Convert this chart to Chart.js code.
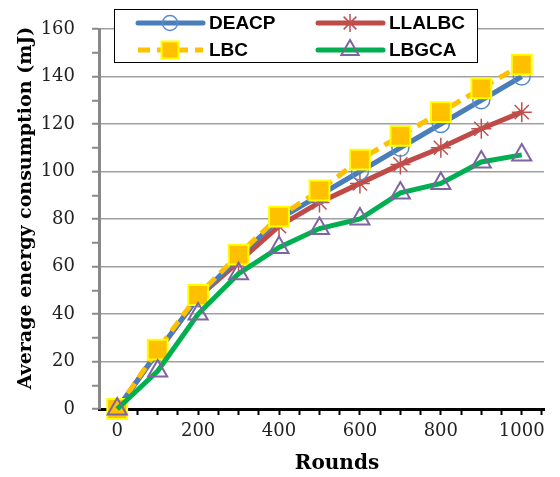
<!DOCTYPE html>
<html>
<head>
<meta charset="utf-8">
<script src="https://cdn.jsdelivr.net/npm/chart.js@4.4.1/dist/chart.umd.min.js"></script>
<style>
  html, body { margin: 0; padding: 0; background: #fff; }
  #wrap { position: relative; width: 560px; height: 477px; }
</style>
</head>
<body>
<div id="wrap"><canvas id="energyChart"></canvas></div>
<script>
// Rounds on the x axis
const rounds = [0, 100, 200, 300, 400, 500, 600, 700, 800, 900, 1000];

// Average energy consumption (mJ) per protocol
const deacp  = [0, 24, 47, 64, 80, 90, 100, 110, 120, 130, 140];
const llalbc = [0, 24, 47, 62, 77, 87, 95, 103, 110, 118, 125];
const lbc    = [0, 25, 48, 65, 81, 92, 105, 115, 125, 135, 145];
const lbgca  = [0, 16, 40, 57, 68, 76, 80, 91, 95, 104, 107];

// Labelled ticks
const xLabels = [0, 200, 400, 600, 800, 1000];
const yLabels = [0, 20, 40, 60, 80, 100, 120, 140, 160];

const xTitle = 'Rounds';
const yTitle = 'Average energy consumption (mJ)';

const toPoints = arr => arr.map((v, i) => ({ x: rounds[i], y: v }));

const tickFont = { family: 'DejaVu Serif', size: 18 };

// Axis titles, placed a little off the scale centres
const axisTitles = {
    id: 'axisTitles',
    afterDraw(chart) {
        const ctx = chart.ctx;
        ctx.save();
        ctx.fillStyle = '#000';
        ctx.font = 'bold 20px "DejaVu Serif"';
        ctx.textAlign = 'center';
        ctx.textBaseline = 'middle';
        ctx.fillText(xTitle, 337, 464);
        ctx.translate(26, 208);
        ctx.rotate(-Math.PI / 2);
        ctx.font = 'bold 19px "DejaVu Serif"';
        ctx.fillText(yTitle, 0, 0);
        ctx.restore();
    }
};

// Boxed legend in two columns, each entry shows line + marker
const legendBox = {
    id: 'legendBox',
    afterDraw(chart) {
        const ctx = chart.ctx;
        const ds = chart.data.datasets;
        ctx.save();
        ctx.fillStyle = '#fff';
        ctx.fillRect(114.5, 9.5, 363, 53);
        ctx.strokeStyle = '#000';
        ctx.lineWidth = 1;
        ctx.strokeRect(114.5, 9.5, 363, 53);

        const slots = [[138, 23], [318, 23], [138, 50], [318, 50]];
        ds.forEach((d, i) => {
            const [x, y] = slots[i];
            ctx.save();
            ctx.strokeStyle = d.borderColor;
            ctx.lineWidth = d.borderWidth;
            ctx.lineCap = d.borderDash ? 'butt' : 'round';
            ctx.setLineDash(d.borderDash || []);
            ctx.beginPath();
            ctx.moveTo(x, y);
            ctx.lineTo(x + 65, y);
            ctx.stroke();
            ctx.restore();

            ctx.save();
            ctx.strokeStyle = d.pointBorderColor;
            ctx.fillStyle = d.pointBackgroundColor;
            ctx.lineWidth = d.pointBorderWidth;
            Chart.helpers.drawPoint(ctx, {
                pointStyle: d.pointStyle,
                radius: d.legendRadius,
                rotation: 0,
                borderWidth: d.pointBorderWidth
            }, x + 32, y);
            ctx.restore();

            ctx.fillStyle = '#000';
            ctx.font = 'bold 19px "Liberation Sans"';
            ctx.textBaseline = 'middle';
            ctx.fillText(d.label, x + 71, y + 1);
        });
        ctx.restore();
    }
};

new Chart(document.getElementById('energyChart'), {
    type: 'line',
    data: {
        datasets: [
            {
                label: 'DEACP',
                data: toPoints(deacp),
                borderColor: '#4A7EBB',
                borderWidth: 5,
                pointStyle: 'circle',
                pointRadius: 8.5,
                legendRadius: 7.5,
                pointBorderColor: '#5B8BC9',
                pointBackgroundColor: 'rgba(0,0,0,0)',
                pointBorderWidth: 1.5,
                order: 2
            },
            {
                label: 'LLALBC',
                data: toPoints(llalbc),
                borderColor: '#BE4B48',
                borderWidth: 5,
                pointStyle: 'star',
                pointRadius: 10,
                legendRadius: 9,
                pointBorderColor: '#C0504D',
                pointBackgroundColor: '#C0504D',
                pointBorderWidth: 1.5,
                order: 3
            },
            {
                label: 'LBC',
                data: toPoints(lbc),
                borderColor: '#FFC000',
                borderWidth: 5,
                borderDash: [12, 7],
                pointStyle: 'rect',
                pointRadius: 14,
                legendRadius: 12,
                pointBorderColor: '#FFFF00',
                pointBackgroundColor: '#FFC000',
                pointBorderWidth: 2,
                order: 1
            },
            {
                label: 'LBGCA',
                data: toPoints(lbgca),
                borderColor: '#00B050',
                borderWidth: 5,
                pointStyle: 'triangle',
                pointRadius: 11,
                legendRadius: 10,
                pointBorderColor: '#8064A2',
                pointBackgroundColor: 'rgba(0,0,0,0)',
                pointBorderWidth: 2,
                order: 0
            }
        ]
    },
    options: {
        responsive: true,
        maintainAspectRatio: false,
        animation: false,
        clip: false,
        layout: { padding: { left: 0, top: 29, right: 2, bottom: 0 } },
        plugins: {
            legend: { display: false },
            tooltip: { enabled: false }
        },
        elements: { line: { tension: 0 } },
        scales: {
            x: {
                type: 'linear',
                min: -45,
                max: 1055,
                afterBuildTicks(scale) {
                    const t = [];
                    for (let v = 0; v <= 1050; v += 50) t.push({ value: v });
                    scale.ticks = t;
                },
                afterFit(scale) { scale.height = 68; },
                ticks: {
                    autoSkip: false,
                    maxRotation: 0,
                    padding: 6,
                    color: '#222',
                    font: tickFont,
                    callback: v => xLabels.includes(v) ? String(v) : ''
                },
                grid: {
                    drawOnChartArea: false,
                    tickLength: 6,
                    tickColor: '#000',
                    tickWidth: 2
                },
                border: { color: '#000', width: 3 }
            },
            y: {
                min: 0,
                max: 160,
                afterBuildTicks(scale) {
                    const t = [];
                    for (let v = 0; v <= 160; v += 10) t.push({ value: v });
                    scale.ticks = t;
                },
                afterFit(scale) { scale.width = 99; },
                ticks: {
                    autoSkip: false,
                    padding: 17,
                    color: '#222',
                    font: tickFont,
                    callback: v => yLabels.includes(v) ? String(v) : ''
                },
                grid: {
                    color: ctx => (ctx.tick && ctx.tick.value % 20 === 0) ? '#A0A0A0' : 'rgba(0,0,0,0)',
                    lineWidth: 1.5,
                    tickLength: 7,
                    tickColor: '#888',
                    tickWidth: 2
                },
                border: { color: '#888', width: 3 }
            }
        }
    },
    plugins: [legendBox, axisTitles]
});
</script>
</body>
</html>
